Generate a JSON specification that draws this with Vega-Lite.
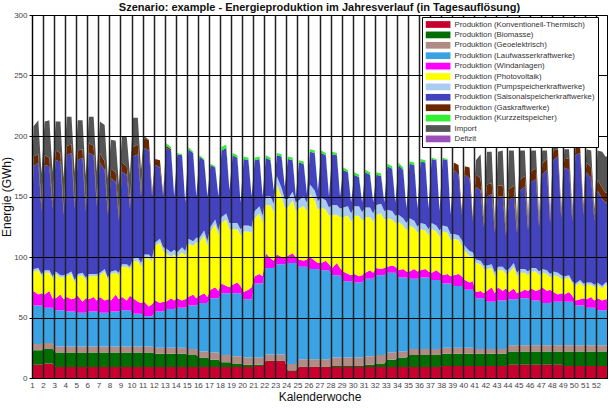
{
"$schema": "https://vega.github.io/schema/vega-lite/v6.json",
"width": 575, "height": 363,
"autosize": {"type": "none"},
"padding": {"left": 32, "top": 15, "right": 2, "bottom": 30},
"background": "white",
"title": {"text": "Szenario: example - Energieproduktion im Jahresverlauf (in Tagesauflösung)", "fontSize": 11, "fontWeight": "bold", "font": "Liberation Sans", "color": "#111", "offset": -2, "anchor": "middle"},
"data": {"values": [
{"t":1,"a":11,"b":12,"c":5,"d":32,"e":10,"f":12,"g":2,"h":51,"i":5,"j":0,"k":26},
{"t":2,"a":11,"b":12,"c":5,"d":32,"e":12,"f":16,"g":2,"h":85,"i":8,"j":0,"k":25},
{"t":5,"a":11,"b":12,"c":5,"d":32,"e":9,"f":20,"g":2,"h":87,"i":7,"j":0,"k":28},
{"t":7,"a":11,"b":12,"c":5,"d":32,"e":10,"f":14,"g":2,"h":52,"i":4,"j":0,"k":27},
{"t":9,"a":12,"b":12,"c":5,"d":29,"e":11,"f":18,"g":2,"h":87,"i":8,"j":0,"k":28},
{"t":12,"a":12,"b":12,"c":5,"d":29,"e":14,"f":15,"g":2,"h":86,"i":7,"j":0,"k":31},
{"t":14,"a":12,"b":12,"c":5,"d":29,"e":8,"f":16,"g":2,"h":56,"i":4,"j":0,"k":26},
{"t":16,"a":9,"b":12,"c":5,"d":30,"e":10,"f":20,"g":2,"h":92,"i":8,"j":0,"k":24},
{"t":19,"a":9,"b":12,"c":5,"d":30,"e":13,"f":14,"g":2,"h":94,"i":7,"j":0,"k":26},
{"t":21,"a":9,"b":12,"c":5,"d":30,"e":9,"f":18,"g":2,"h":50,"i":3,"j":0,"k":27},
{"t":23,"a":9,"b":12,"c":5,"d":29,"e":12,"f":17,"g":2,"h":98,"i":8,"j":0,"k":24},
{"t":26,"a":9,"b":12,"c":5,"d":29,"e":10,"f":21,"g":2,"h":98,"i":7,"j":0,"k":23},
{"t":28,"a":9,"b":12,"c":5,"d":29,"e":11,"f":13,"g":2,"h":59,"i":4,"j":0,"k":26},
{"t":30,"a":9,"b":12,"c":5,"d":28,"e":14,"f":16,"g":2,"h":94,"i":8,"j":0,"k":25},
{"t":33,"a":9,"b":12,"c":5,"d":28,"e":9,"f":22,"g":2,"h":95,"i":7,"j":0,"k":24},
{"t":35,"a":9,"b":12,"c":5,"d":28,"e":12,"f":15,"g":2,"h":55,"i":4,"j":0,"k":25},
{"t":37,"a":9,"b":12,"c":5,"d":29,"e":10,"f":19,"g":2,"h":100,"i":8,"j":0,"k":22},
{"t":40,"a":9,"b":12,"c":5,"d":29,"e":12,"f":17,"g":2,"h":98,"i":8,"j":0,"k":24},
{"t":42,"a":9,"b":12,"c":5,"d":29,"e":9,"f":20,"g":2,"h":56,"i":4,"j":0,"k":24},
{"t":44,"a":9,"b":12,"c":5,"d":28,"e":13,"f":18,"g":2,"h":91,"i":8,"j":0,"k":26},
{"t":47,"a":9,"b":12,"c":5,"d":28,"e":10,"f":24,"g":2,"h":82,"i":7,"j":0,"k":30},
{"t":49,"a":9,"b":12,"c":5,"d":28,"e":11,"f":16,"g":2,"h":52,"i":3,"j":0,"k":27},
{"t":51,"a":9,"b":12,"c":5,"d":29,"e":9,"f":22,"g":2,"h":77,"i":8,"j":0,"k":24},
{"t":54,"a":9,"b":12,"c":5,"d":29,"e":14,"f":18,"g":2,"h":73,"i":8,"j":0,"k":26},
{"t":56,"a":9,"b":12,"c":5,"d":29,"e":10,"f":20,"g":2,"h":43,"i":4,"j":0,"k":26},
{"t":58,"a":9,"b":12,"c":5,"d":30,"e":11,"f":25,"g":2,"h":76,"i":8,"j":0,"k":22},
{"t":61,"a":9,"b":12,"c":5,"d":30,"e":8,"f":28,"g":2,"h":74,"i":7,"j":0,"k":24},
{"t":63,"a":9,"b":12,"c":5,"d":30,"e":12,"f":22,"g":2,"h":48,"i":4,"j":0,"k":24},
{"t":65,"a":9,"b":12,"c":5,"d":27,"e":13,"f":30,"g":3,"h":84,"i":8,"j":0,"k":24},
{"t":68,"a":9,"b":12,"c":5,"d":27,"e":10,"f":34,"g":3,"h":85,"i":8,"j":0,"k":22},
{"t":70,"a":9,"b":12,"c":5,"d":27,"e":9,"f":30,"g":3,"h":55,"i":4,"j":0,"k":18},
{"t":72,"a":9,"b":12,"c":5,"d":25,"e":12,"f":36,"g":3,"h":88,"i":8,"j":0,"k":2},
{"t":75,"a":9,"b":12,"c":5,"d":25,"e":8,"f":40,"g":3,"h":86,"i":9,"j":0,"k":0},
{"t":77,"a":9,"b":12,"c":5,"d":25,"e":10,"f":35,"g":3,"h":51,"i":3,"j":0,"k":0},
{"t":79,"a":9,"b":11,"c":5,"d":30,"e":9,"f":45,"g":3,"h":64,"i":5,"j":0,"k":0},
{"t":82,"a":9,"b":11,"c":5,"d":30,"e":7,"f":50,"g":3,"h":59,"i":6,"j":0,"k":0},
{"t":84,"a":9,"b":11,"c":5,"d":30,"e":8,"f":42,"g":3,"h":42,"i":2,"j":0,"k":0},
{"t":86,"a":9,"b":11,"c":5,"d":32,"e":6,"f":40,"g":4,"h":83,"i":2,"j":2,"k":0},
{"t":89,"a":9,"b":11,"c":5,"d":32,"e":9,"f":34,"g":4,"h":84,"i":1,"j":2,"k":0},
{"t":91,"a":9,"b":11,"c":5,"d":32,"e":7,"f":38,"g":4,"h":44,"i":0,"j":0,"k":0},
{"t":93,"a":9,"b":11,"c":5,"d":33,"e":8,"f":34,"g":4,"h":81,"i":0,"j":1,"k":0},
{"t":96,"a":9,"b":11,"c":5,"d":33,"e":6,"f":40,"g":4,"h":76,"i":0,"j":1,"k":0},
{"t":98,"a":9,"b":11,"c":5,"d":33,"e":7,"f":36,"g":4,"h":40,"i":0,"j":0,"k":0},
{"t":100,"a":9,"b":10,"c":5,"d":36,"e":7,"f":44,"g":4,"h":74,"i":0,"j":2,"k":0},
{"t":103,"a":9,"b":10,"c":5,"d":36,"e":9,"f":40,"g":4,"h":73,"i":0,"j":1,"k":0},
{"t":105,"a":9,"b":10,"c":5,"d":36,"e":6,"f":46,"g":4,"h":34,"i":0,"j":0,"k":0},
{"t":107,"a":9,"b":8,"c":5,"d":40,"e":6,"f":44,"g":4,"h":67,"i":0,"j":1,"k":0},
{"t":110,"a":9,"b":8,"c":5,"d":40,"e":8,"f":48,"g":4,"h":58,"i":0,"j":1,"k":0},
{"t":112,"a":9,"b":8,"c":5,"d":40,"e":5,"f":42,"g":4,"h":37,"i":0,"j":0,"k":0},
{"t":114,"a":9,"b":6,"c":6,"d":45,"e":7,"f":48,"g":4,"h":51,"i":0,"j":1,"k":0},
{"t":117,"a":9,"b":6,"c":6,"d":45,"e":9,"f":52,"g":4,"h":43,"i":0,"j":1,"k":0},
{"t":119,"a":9,"b":6,"c":6,"d":45,"e":6,"f":46,"g":4,"h":28,"i":0,"j":0,"k":0},
{"t":121,"a":9,"b":4,"c":6,"d":51,"e":8,"f":50,"g":5,"h":55,"i":0,"j":3,"k":0},
{"t":124,"a":9,"b":4,"c":6,"d":51,"e":6,"f":55,"g":5,"h":54,"i":0,"j":3,"k":0},
{"t":126,"a":9,"b":4,"c":6,"d":51,"e":5,"f":48,"g":5,"h":27,"i":0,"j":0,"k":0},
{"t":128,"a":9,"b":3,"c":6,"d":52,"e":7,"f":46,"g":5,"h":56,"i":0,"j":2,"k":0},
{"t":131,"a":9,"b":3,"c":6,"d":52,"e":9,"f":44,"g":5,"h":54,"i":0,"j":2,"k":0},
{"t":133,"a":9,"b":3,"c":6,"d":52,"e":6,"f":42,"g":5,"h":22,"i":0,"j":0,"k":0},
{"t":135,"a":9,"b":2,"c":6,"d":48,"e":6,"f":50,"g":5,"h":55,"i":0,"j":2,"k":0},
{"t":138,"a":9,"b":2,"c":6,"d":48,"e":8,"f":48,"g":5,"h":54,"i":0,"j":2,"k":0},
{"t":140,"a":9,"b":2,"c":6,"d":48,"e":10,"f":45,"g":5,"h":25,"i":0,"j":0,"k":0},
{"t":142,"a":10,"b":1,"c":6,"d":61,"e":6,"f":48,"g":6,"h":42,"i":0,"j":2,"k":0},
{"t":145,"a":10,"b":1,"c":6,"d":61,"e":8,"f":50,"g":6,"h":39,"i":0,"j":2,"k":0},
{"t":147,"a":10,"b":1,"c":6,"d":61,"e":6,"f":44,"g":6,"h":16,"i":0,"j":0,"k":0},
{"t":149,"a":14,"b":0.5,"c":5,"d":71.5,"e":12,"f":40,"g":7,"h":32,"i":0,"j":2,"k":0},
{"t":152,"a":14,"b":0.5,"c":5,"d":71.5,"e":8,"f":44,"g":7,"h":30,"i":0,"j":2,"k":0},
{"t":154,"a":14,"b":0.5,"c":5,"d":71.5,"e":6,"f":40,"g":7,"h":11,"i":0,"j":0,"k":0},
{"t":156,"a":14,"b":0.5,"c":5,"d":74.5,"e":8,"f":58,"g":7,"h":17,"i":0,"j":2,"k":0},
{"t":159,"a":14,"b":0.5,"c":5,"d":74.5,"e":6,"f":50,"g":7,"h":26,"i":0,"j":2,"k":0},
{"t":161,"a":14,"b":0.5,"c":5,"d":74.5,"e":5,"f":42,"g":7,"h":10,"i":0,"j":0,"k":0},
{"t":163,"a":6,"b":0.5,"c":5,"d":83.5,"e":6,"f":40,"g":7,"h":33,"i":0,"j":2,"k":0},
{"t":166,"a":6,"b":0.5,"c":5,"d":83.5,"e":8,"f":44,"g":7,"h":26,"i":0,"j":2,"k":0},
{"t":168,"a":6,"b":0.5,"c":5,"d":83.5,"e":5,"f":38,"g":7,"h":5,"i":0,"j":0,"k":0},
{"t":170,"a":9,"b":0.5,"c":6,"d":76.5,"e":6,"f":42,"g":7,"h":31,"i":0,"j":2,"k":0},
{"t":173,"a":9,"b":0.5,"c":6,"d":76.5,"e":5,"f":45,"g":8,"h":27,"i":0,"j":2,"k":0},
{"t":175,"a":9,"b":0.5,"c":6,"d":76.5,"e":6,"f":40,"g":7,"h":7,"i":0,"j":0,"k":0},
{"t":177,"a":9,"b":0.5,"c":6,"d":74.5,"e":10,"f":52,"g":8,"h":27,"i":0,"j":2,"k":0},
{"t":180,"a":9,"b":0.5,"c":6,"d":74.5,"e":7,"f":50,"g":8,"h":31,"i":0,"j":2,"k":0},
{"t":182,"a":9,"b":0.5,"c":6,"d":74.5,"e":5,"f":44,"g":7,"h":9,"i":0,"j":0,"k":0},
{"t":184,"a":9,"b":0.5,"c":6,"d":73.5,"e":6,"f":46,"g":8,"h":37,"i":0,"j":2,"k":0},
{"t":187,"a":9,"b":0.5,"c":6,"d":73.5,"e":8,"f":42,"g":8,"h":37,"i":0,"j":2,"k":0},
{"t":189,"a":9,"b":0.5,"c":6,"d":73.5,"e":5,"f":40,"g":7,"h":9,"i":0,"j":0,"k":0},
{"t":191,"a":9,"b":1,"c":7,"d":68,"e":6,"f":44,"g":8,"h":42,"i":0,"j":2,"k":0},
{"t":194,"a":9,"b":1,"c":7,"d":68,"e":10,"f":40,"g":8,"h":41,"i":0,"j":2,"k":0},
{"t":196,"a":9,"b":1,"c":7,"d":68,"e":6,"f":42,"g":7,"h":10,"i":0,"j":0,"k":0},
{"t":198,"a":9,"b":1,"c":7,"d":63,"e":8,"f":45,"g":8,"h":31,"i":0,"j":2,"k":0},
{"t":201,"a":9,"b":1,"c":7,"d":63,"e":6,"f":48,"g":8,"h":28,"i":0,"j":2,"k":0},
{"t":203,"a":9,"b":1,"c":7,"d":63,"e":5,"f":44,"g":7,"h":9,"i":0,"j":0,"k":0},
{"t":205,"a":9,"b":1,"c":7,"d":62,"e":7,"f":48,"g":8,"h":26,"i":0,"j":2,"k":0},
{"t":208,"a":9,"b":1,"c":7,"d":62,"e":5,"f":50,"g":8,"h":24,"i":0,"j":2,"k":0},
{"t":210,"a":9,"b":1,"c":7,"d":62,"e":6,"f":45,"g":7,"h":8,"i":0,"j":0,"k":0},
{"t":212,"a":9,"b":2,"c":7,"d":64,"e":5,"f":46,"g":8,"h":29,"i":0,"j":2,"k":0},
{"t":215,"a":9,"b":2,"c":7,"d":64,"e":7,"f":44,"g":8,"h":27,"i":0,"j":2,"k":0},
{"t":217,"a":9,"b":2,"c":7,"d":64,"e":5,"f":42,"g":7,"h":9,"i":0,"j":0,"k":0},
{"t":219,"a":9,"b":3,"c":7,"d":66,"e":6,"f":44,"g":8,"h":25,"i":0,"j":2,"k":0},
{"t":222,"a":9,"b":3,"c":7,"d":66,"e":5,"f":46,"g":8,"h":23,"i":0,"j":2,"k":0},
{"t":224,"a":9,"b":3,"c":7,"d":66,"e":6,"f":40,"g":7,"h":7,"i":0,"j":0,"k":0},
{"t":226,"a":9,"b":6,"c":6,"d":66,"e":5,"f":40,"g":7,"h":36,"i":0,"j":2,"k":0},
{"t":229,"a":9,"b":6,"c":6,"d":66,"e":6,"f":38,"g":7,"h":35,"i":0,"j":2,"k":0},
{"t":231,"a":9,"b":6,"c":6,"d":66,"e":5,"f":36,"g":6,"h":11,"i":0,"j":0,"k":0},
{"t":233,"a":9,"b":8,"c":5,"d":61,"e":6,"f":40,"g":6,"h":41,"i":0,"j":2,"k":0},
{"t":236,"a":9,"b":8,"c":5,"d":61,"e":7,"f":36,"g":6,"h":40,"i":0,"j":2,"k":0},
{"t":238,"a":9,"b":8,"c":5,"d":61,"e":5,"f":34,"g":6,"h":12,"i":0,"j":0,"k":0},
{"t":240,"a":9,"b":10,"c":5,"d":58,"e":6,"f":38,"g":6,"h":45,"i":0,"j":2,"k":0},
{"t":243,"a":9,"b":10,"c":5,"d":58,"e":8,"f":34,"g":6,"h":46,"i":0,"j":2,"k":0},
{"t":245,"a":9,"b":10,"c":5,"d":58,"e":6,"f":32,"g":5,"h":15,"i":0,"j":0,"k":0},
{"t":247,"a":9,"b":10,"c":5,"d":59,"e":6,"f":34,"g":5,"h":51,"i":0,"j":2,"k":0},
{"t":250,"a":9,"b":10,"c":5,"d":59,"e":7,"f":32,"g":5,"h":51,"i":0,"j":2,"k":0},
{"t":252,"a":9,"b":10,"c":5,"d":59,"e":5,"f":30,"g":5,"h":17,"i":0,"j":0,"k":0},
{"t":254,"a":9,"b":10,"c":5,"d":57,"e":6,"f":36,"g":5,"h":53,"i":0,"j":1,"k":0},
{"t":257,"a":9,"b":10,"c":5,"d":57,"e":8,"f":32,"g":5,"h":54,"i":0,"j":1,"k":0},
{"t":259,"a":9,"b":10,"c":5,"d":57,"e":6,"f":30,"g":5,"h":16,"i":0,"j":0,"k":0},
{"t":261,"a":10,"b":10,"c":5,"d":53,"e":7,"f":36,"g":5,"h":55,"i":0,"j":1,"k":0},
{"t":264,"a":10,"b":10,"c":5,"d":53,"e":8,"f":34,"g":5,"h":55,"i":0,"j":1,"k":0},
{"t":266,"a":10,"b":10,"c":5,"d":53,"e":6,"f":30,"g":5,"h":16,"i":0,"j":0,"k":0},
{"t":268,"a":10,"b":10,"c":5,"d":51,"e":9,"f":30,"g":4,"h":53,"i":6,"j":0,"k":0},
{"t":271,"a":10,"b":10,"c":5,"d":51,"e":10,"f":28,"g":4,"h":50,"i":8,"j":0,"k":0},
{"t":273,"a":10,"b":10,"c":5,"d":51,"e":8,"f":26,"g":4,"h":21,"i":3,"j":0,"k":0},
{"t":275,"a":10,"b":10,"c":5,"d":48,"e":8,"f":24,"g":4,"h":59,"i":7,"j":0,"k":0},
{"t":278,"a":10,"b":10,"c":5,"d":48,"e":6,"f":22,"g":4,"h":60,"i":9,"j":0,"k":0},
{"t":280,"a":10,"b":10,"c":5,"d":48,"e":7,"f":20,"g":4,"h":26,"i":3,"j":0,"k":0},
{"t":282,"a":10,"b":10,"c":4,"d":42,"e":5,"f":24,"g":3,"h":60,"i":10,"j":0,"k":12},
{"t":285,"a":10,"b":10,"c":4,"d":42,"e":6,"f":22,"g":3,"h":58,"i":10,"j":0,"k":20},
{"t":287,"a":10,"b":10,"c":4,"d":42,"e":4,"f":20,"g":3,"h":32,"i":3,"j":0,"k":5},
{"t":289,"a":10,"b":10,"c":4,"d":39,"e":9,"f":18,"g":3,"h":57,"i":10,"j":0,"k":27},
{"t":292,"a":10,"b":10,"c":4,"d":39,"e":12,"f":16,"g":3,"h":58,"i":9,"j":0,"k":26},
{"t":294,"a":10,"b":10,"c":4,"d":39,"e":7,"f":14,"g":3,"h":33,"i":3,"j":0,"k":7},
{"t":296,"a":10,"b":10,"c":4,"d":40,"e":11,"f":14,"g":3,"h":58,"i":9,"j":0,"k":28},
{"t":299,"a":10,"b":10,"c":4,"d":40,"e":8,"f":17,"g":3,"h":58,"i":9,"j":0,"k":29},
{"t":301,"a":10,"b":10,"c":4,"d":40,"e":10,"f":12,"g":3,"h":29,"i":3,"j":0,"k":6},
{"t":303,"a":11,"b":11,"c":5,"d":38,"e":6,"f":16,"g":3,"h":57,"i":9,"j":0,"k":32},
{"t":306,"a":11,"b":11,"c":5,"d":38,"e":9,"f":18,"g":3,"h":55,"i":9,"j":0,"k":29},
{"t":308,"a":11,"b":11,"c":5,"d":38,"e":5,"f":14,"g":3,"h":33,"i":3,"j":0,"k":8},
{"t":310,"a":11,"b":11,"c":5,"d":39,"e":5,"f":16,"g":3,"h":65,"i":9,"j":0,"k":24},
{"t":313,"a":11,"b":11,"c":5,"d":39,"e":7,"f":14,"g":3,"h":68,"i":9,"j":0,"k":21},
{"t":315,"a":11,"b":11,"c":5,"d":39,"e":6,"f":13,"g":3,"h":34,"i":3,"j":0,"k":7},
{"t":317,"a":11,"b":11,"c":5,"d":37,"e":10,"f":14,"g":3,"h":71,"i":9,"j":0,"k":17},
{"t":320,"a":11,"b":11,"c":5,"d":37,"e":8,"f":16,"g":3,"h":73,"i":9,"j":0,"k":15},
{"t":322,"a":11,"b":11,"c":5,"d":37,"e":9,"f":12,"g":3,"h":37,"i":3,"j":0,"k":6},
{"t":324,"a":11,"b":11,"c":5,"d":35,"e":13,"f":12,"g":3,"h":78,"i":9,"j":0,"k":11},
{"t":327,"a":11,"b":11,"c":5,"d":35,"e":10,"f":14,"g":3,"h":83,"i":9,"j":0,"k":7},
{"t":329,"a":11,"b":11,"c":5,"d":35,"e":11,"f":10,"g":3,"h":42,"i":3,"j":0,"k":5},
{"t":331,"a":11,"b":11,"c":5,"d":36,"e":8,"f":14,"g":3,"h":92,"i":8,"j":0,"k":2},
{"t":334,"a":11,"b":11,"c":5,"d":36,"e":6,"f":15,"g":3,"h":96,"i":6,"j":0,"k":1},
{"t":336,"a":11,"b":11,"c":5,"d":36,"e":7,"f":12,"g":3,"h":47,"i":3,"j":0,"k":5},
{"t":338,"a":10,"b":12,"c":5,"d":36,"e":6,"f":13,"g":2,"h":90,"i":8,"j":0,"k":7},
{"t":341,"a":10,"b":12,"c":5,"d":36,"e":8,"f":12,"g":2,"h":87,"i":9,"j":0,"k":8},
{"t":343,"a":10,"b":12,"c":5,"d":36,"e":5,"f":10,"g":2,"h":50,"i":3,"j":0,"k":6},
{"t":345,"a":10,"b":12,"c":5,"d":33,"e":4,"f":12,"g":2,"h":106,"i":6,"j":0,"k":2},
{"t":348,"a":10,"b":12,"c":5,"d":33,"e":5,"f":14,"g":2,"h":105,"i":5,"j":0,"k":1},
{"t":350,"a":10,"b":12,"c":5,"d":33,"e":6,"f":10,"g":2,"h":57,"i":3,"j":0,"k":5},
{"t":352,"a":10,"b":12,"c":5,"d":31,"e":7,"f":12,"g":2,"h":91,"i":8,"j":0,"k":11},
{"t":355,"a":10,"b":12,"c":5,"d":31,"e":9,"f":10,"g":2,"h":86,"i":9,"j":0,"k":14},
{"t":357,"a":10,"b":12,"c":5,"d":31,"e":6,"f":11,"g":2,"h":53,"i":3,"j":0,"k":6},
{"t":359,"a":10,"b":12,"c":5,"d":29,"e":10,"f":11,"g":2,"h":76,"i":9,"j":0,"k":24},
{"t":362,"a":10,"b":12,"c":5,"d":29,"e":8,"f":10,"g":2,"h":72,"i":9,"j":0,"k":30},
{"t":364,"a":10,"b":12,"c":5,"d":29,"e":9,"f":12,"g":2,"h":66,"i":8,"j":0,"k":30},
{"t":365,"a":10,"b":12,"c":5,"d":29,"e":9,"f":12,"g":2,"h":66,"i":8,"j":0,"k":30}
]},
"transform": [{"fold": ["a","b","c","d","e","f","g","h","i","j","k"], "as": ["s","v"]}],
"mark": {"type": "area", "interpolate": "linear"},
"encoding": {
  "x": {"field": "t", "type": "quantitative", "scale": {"domain": [1, 365], "nice": false, "zero": false},
    "axis": {"values": [1,8,15,22,29,36,43,50,57,64,71,78,85,92,99,106,113,120,127,134,141,148,155,162,169,176,183,190,197,204,211,218,225,232,239,246,253,260,267,274,281,288,295,302,309,316,323,330,337,344,351,358],
      "labelExpr": "(datum.value-1)/7+1", "title": "Kalenderwoche", "titleFontSize": 12, "titleFontWeight": "normal", "titleColor": "#111", "titlePadding": 2,
      "labelFontSize": 8, "labelColor": "#444", "labelPadding": 3, "labelOverlap": false, "labelFlush": false, "tickSize": 0,
      "grid": true, "gridColor": "#222", "gridWidth": 1.5, "zindex": 1, "domainColor": "black"}},
  "y": {"field": "v", "type": "quantitative", "stack": "zero", "scale": {"domain": [0, 300], "nice": false},
    "axis": {"values": [0,50,100,150,200,250,300], "title": "Energie (GWh)", "titleFontSize": 12, "titleFontWeight": "normal", "titleColor": "#111", "titlePadding": 0,
      "labelFontSize": 8, "labelColor": "#444", "labelPadding": 2, "tickSize": 3, "tickColor": "black",
      "grid": true, "gridColor": "black", "gridWidth": 1, "zindex": 1, "domainColor": "black"}},
  "color": {"field": "s", "type": "nominal",
    "scale": {"domain": ["a","b","c","d","e","f","g","h","i","j","k","l"],
      "range": ["#c8002e","#006e00","#b08c84","#3ba3e3","#ff00ff","#ffff00","#a8cdf0","#4343c0","#6b2800","#33ee33","#555555","#9b4fb8"]},
    "legend": {"orient": "none", "legendX": 390, "legendY": 2, "title": null, "fillColor": "white", "strokeColor": "black", "padding": 3.5, "zindex": 3,
      "symbolType": "M-1,-0.9H5.6V0.9H-1Z", "symbolSize": 56, "symbolStrokeWidth": 0, "symbolOpacity": 1,
      "labelFontSize": 7.8, "labelColor": "#333", "labelFont": "Liberation Sans", "rowPadding": 2.4, "labelOffset": 21,
      "labelExpr": "{'a':'Produktion (Konventionell-Thermisch)','b':'Produktion (Biomasse)','c':'Produktion (Geoelektrisch)','d':'Produktion (Laufwasserkraftwerke)','e':'Produktion (Windanlagen)','f':'Produktion (Photovoltaik)','g':'Produktion (Pumpspeicherkraftwerke)','h':'Produktion (Saisonalspeicherkraftwerke)','i':'Produktion (Gaskraftwerke)','j':'Produktion (Kurzzeitspeicher)','k':'Import','l':'Defizit'}[datum.value]"}},
  "order": {"field": "s", "sort": "ascending"}
},
"config": {"view": {"stroke": "black", "strokeWidth": 1}, "font": "Liberation Sans"}
}
